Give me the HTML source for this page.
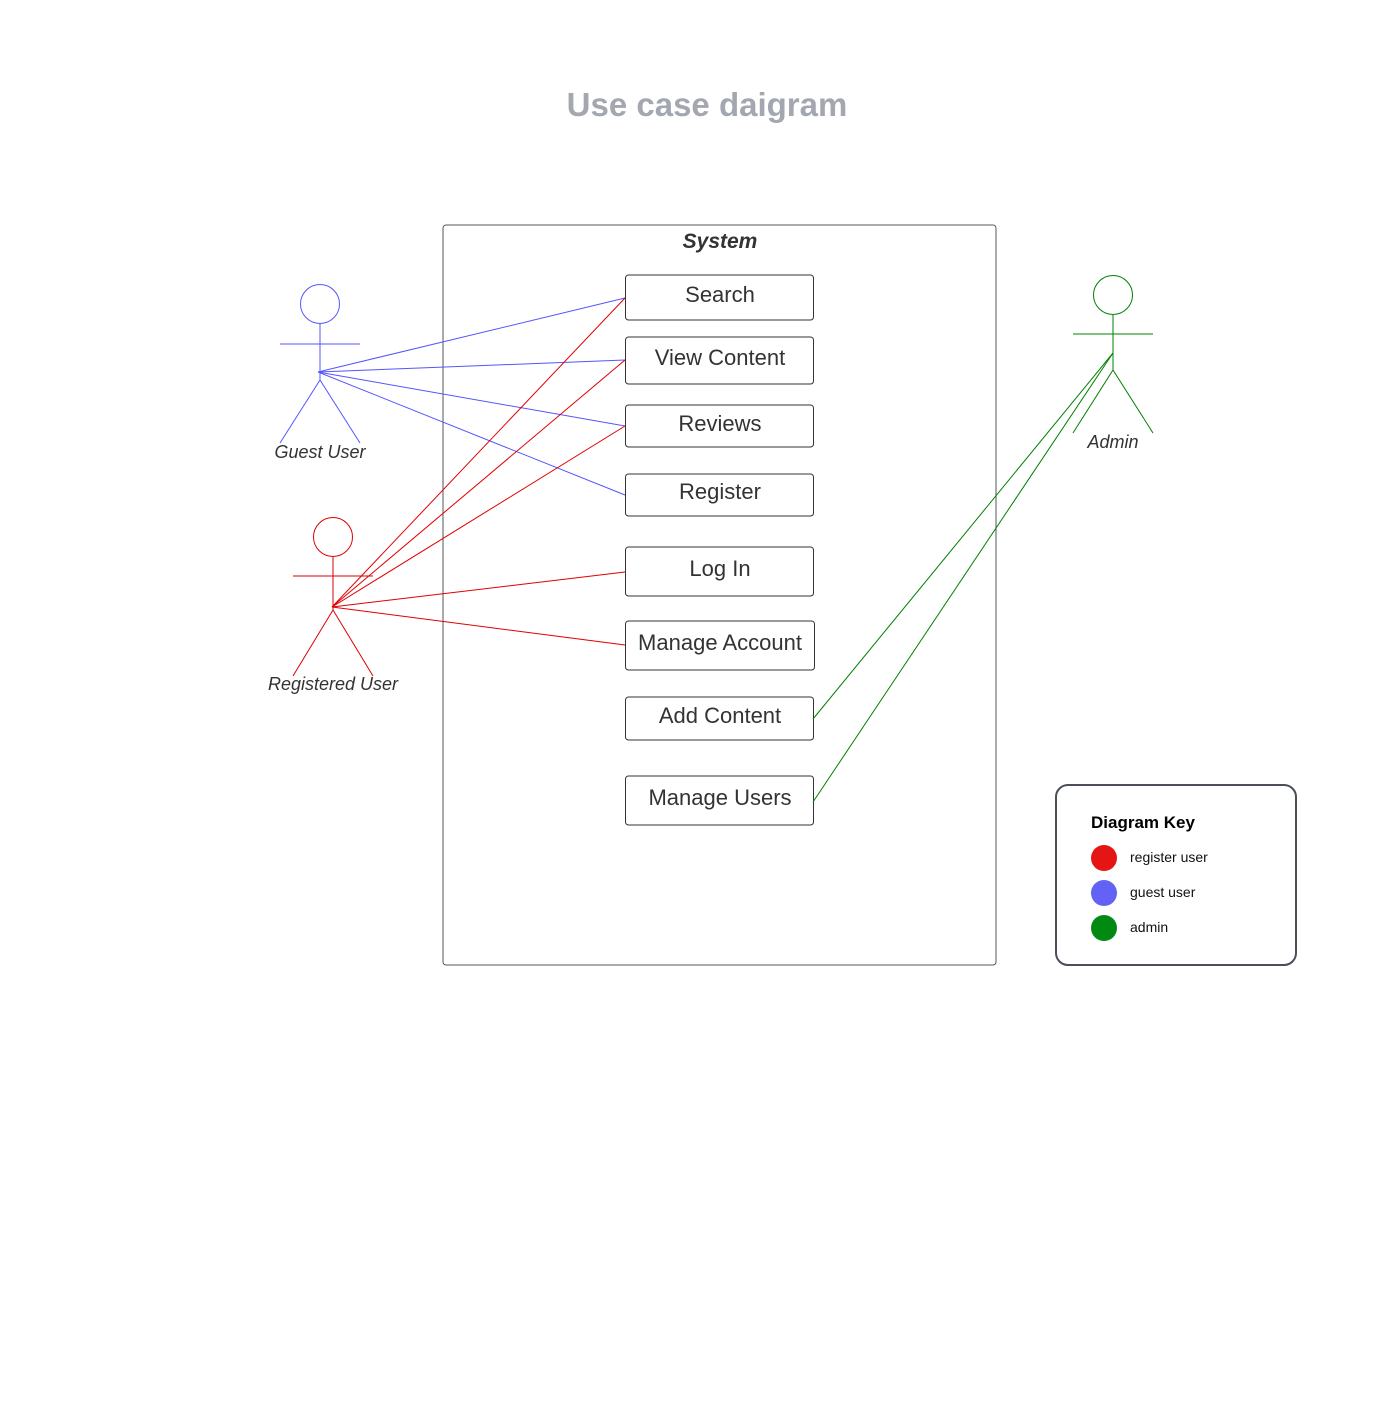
<!DOCTYPE html>
<html><head><meta charset="utf-8"><style>
html,body{margin:0;padding:0;background:#fff;}
svg{display:block;}
</style></head><body>
<svg width="1380" height="1425" viewBox="0 0 1380 1425" xmlns="http://www.w3.org/2000/svg" font-family="Liberation Sans, Arial, sans-serif">
<rect width="1380" height="1425" fill="#fff"/>
<text x="707" y="116" text-anchor="middle" font-size="33" font-weight="bold" fill="#a3a7b0">Use case daigram</text>
<rect x="443" y="225" width="553" height="740" rx="3" fill="none" stroke="#555" stroke-width="1"/>
<text x="720" y="248" text-anchor="middle" font-size="21" font-weight="bold" font-style="italic" fill="#333">System</text>
<g fill="#fff" stroke="#333" stroke-width="1">
<rect x="625.5" y="275" width="188" height="45" rx="3"/>
<rect x="625.5" y="337" width="188" height="47" rx="3"/>
<rect x="625.5" y="405" width="188" height="42" rx="3"/>
<rect x="625.5" y="474" width="188" height="42" rx="3"/>
<rect x="625.5" y="547" width="188" height="49" rx="3"/>
<rect x="625.5" y="621" width="189" height="49" rx="3"/>
<rect x="625.5" y="697" width="188" height="43" rx="3"/>
<rect x="625.5" y="776" width="188" height="49" rx="3"/>
</g>
<g font-size="22" fill="#333" text-anchor="middle">
<text x="720" y="302">Search</text>
<text x="720" y="365">View Content</text>
<text x="720" y="431">Reviews</text>
<text x="720" y="499">Register</text>
<text x="720" y="576">Log In</text>
<text x="720" y="650">Manage Account</text>
<text x="720" y="723">Add Content</text>
<text x="720" y="805">Manage Users</text>
</g>
<g stroke="#5555ff" stroke-width="1" fill="none">
<circle cx="320" cy="304" r="19.5"/>
<line x1="320" y1="324" x2="320" y2="380"/>
<line x1="280" y1="344" x2="360" y2="344"/>
<line x1="320" y1="380" x2="280" y2="443"/>
<line x1="320" y1="380" x2="360" y2="443"/>
<line x1="318" y1="372" x2="625" y2="298"/>
<line x1="318" y1="372" x2="625" y2="360"/>
<line x1="318" y1="372" x2="625" y2="426"/>
<line x1="318" y1="372" x2="625" y2="495"/>
</g>
<text x="320" y="458" text-anchor="middle" font-size="18" font-style="italic" fill="#333">Guest User</text>
<g stroke="#e00000" stroke-width="1" fill="none">
<circle cx="333" cy="537" r="19.5"/>
<line x1="333" y1="557" x2="333" y2="610"/>
<line x1="293" y1="576" x2="373" y2="576"/>
<line x1="333" y1="610" x2="293" y2="676"/>
<line x1="333" y1="610" x2="373" y2="676"/>
<line x1="332" y1="607" x2="625" y2="298"/>
<line x1="332" y1="607" x2="625" y2="360"/>
<line x1="332" y1="607" x2="625" y2="426"/>
<line x1="332" y1="607" x2="625" y2="572"/>
<line x1="332" y1="607" x2="625" y2="645"/>
</g>
<text x="333" y="690" text-anchor="middle" font-size="18" font-style="italic" fill="#333">Registered User</text>
<g stroke="#008000" stroke-width="1" fill="none">
<circle cx="1113" cy="295" r="19.5"/>
<line x1="1113" y1="315" x2="1113" y2="370"/>
<line x1="1073" y1="334" x2="1153" y2="334"/>
<line x1="1113" y1="370" x2="1073" y2="433"/>
<line x1="1113" y1="370" x2="1153" y2="433"/>
<line x1="1113" y1="353" x2="813" y2="719"/>
<line x1="1113" y1="353" x2="813" y2="802"/>
</g>
<text x="1113" y="448" text-anchor="middle" font-size="18" font-style="italic" fill="#333">Admin</text>
<rect x="1056" y="785" width="240" height="180" rx="12" fill="#fff" stroke="#4a4f5a" stroke-width="2"/>
<text x="1091" y="828" font-size="17" font-weight="bold" fill="#000">Diagram Key</text>
<circle cx="1104" cy="858" r="13" fill="#e51515"/>
<circle cx="1104" cy="893" r="13" fill="#6262f5"/>
<circle cx="1104" cy="928" r="13" fill="#008a14"/>
<g font-size="14" fill="#111">
<text x="1130" y="862">register user</text>
<text x="1130" y="897">guest user</text>
<text x="1130" y="932">admin</text>
</g>
</svg>
</body></html>
